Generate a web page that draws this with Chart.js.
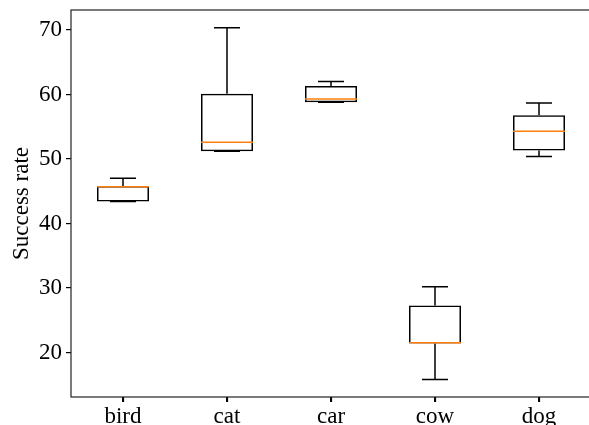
<!DOCTYPE html>
<html>
<head>
<meta charset="utf-8">
<script src="https://cdn.jsdelivr.net/npm/chart.js@4.4.1/dist/chart.umd.min.js"></script>
<style>
  html, body { margin: 0; padding: 0; background: #fff; overflow: hidden; }
  #wrap { width: 600px; height: 440px; }
</style>
</head>
<body>
<div id="wrap"><canvas id="boxChart" width="600" height="440"></canvas></div>
<script>
// Datos del boxplot
const categories = ['bird', 'cat', 'car', 'cow', 'dog'];
const whiskerLow = [43.4, 51.2, 58.8, 15.8, 50.4];
const q1 = [43.4, 51.2, 58.8, 21.4, 51.3];
const median = [45.7, 52.6, 59.3, 21.5, 54.3];
const q3 = [45.8, 60.1, 61.3, 27.3, 56.8];
const whiskerHigh = [47.0, 70.35, 62.0, 30.2, 58.7];
const yTicks = [20, 30, 40, 50, 60, 70];

const serif = "'Liberation Serif', 'DejaVu Serif', serif";

// Bigotes, topes y medianas dibujados con las escalas del gráfico
const boxExtras = {
    id: 'boxExtras',
    afterDatasetsDraw(chart) {
        const ctx = chart.ctx;
        const x = chart.scales.x;
        const y = chart.scales.y;
        const a = chart.chartArea;
        const bars = chart.getDatasetMeta(0).data;
        ctx.save();
        ctx.lineWidth = 1.5;
        categories.forEach((c, i) => {
            const cx = x.getPixelForValue(i);
            const half = bars[i].width / 2;
            const cap = half / 2;
            ctx.strokeStyle = '#000';
            ctx.beginPath();
            ctx.moveTo(cx, y.getPixelForValue(q3[i]));
            ctx.lineTo(cx, y.getPixelForValue(whiskerHigh[i]));
            ctx.moveTo(cx, y.getPixelForValue(q1[i]));
            ctx.lineTo(cx, y.getPixelForValue(whiskerLow[i]));
            ctx.moveTo(cx - cap, y.getPixelForValue(whiskerHigh[i]));
            ctx.lineTo(cx + cap, y.getPixelForValue(whiskerHigh[i]));
            ctx.moveTo(cx - cap, y.getPixelForValue(whiskerLow[i]));
            ctx.lineTo(cx + cap, y.getPixelForValue(whiskerLow[i]));
            ctx.stroke();
            ctx.strokeStyle = '#ff7f0e';
            ctx.beginPath();
            ctx.moveTo(cx - half, y.getPixelForValue(median[i]));
            ctx.lineTo(cx + half, y.getPixelForValue(median[i]));
            ctx.stroke();
            // marca del eje x en el centro de la categoría
            ctx.strokeStyle = '#000';
            ctx.lineWidth = 1.2;
            ctx.beginPath();
            ctx.moveTo(Math.round(cx) + 0.5, a.bottom);
            ctx.lineTo(Math.round(cx) + 0.5, a.bottom + 5);
            ctx.stroke();
            ctx.lineWidth = 1.5;
        });
        // marco del área
        ctx.strokeStyle = '#222';
        ctx.lineWidth = 1.2;
        ctx.strokeRect(a.left, a.top, a.right - a.left, a.bottom - a.top);
        ctx.restore();
    }
};

const boxChart = new Chart(document.getElementById('boxChart'), {
    type: 'bar',
    data: {
        labels: categories,
        datasets: [{
            data: categories.map((c, i) => [q1[i], q3[i]]),
            backgroundColor: 'rgba(255, 255, 255, 0)',
            borderColor: '#000',
            borderWidth: 1.5,
            borderSkipped: false,
            barPercentage: 0.5,
            categoryPercentage: 1
        }]
    },
    options: {
        responsive: false,
        animation: false,
        layout: { padding: { left: 0, right: 9, top: 10, bottom: 0 } },
        plugins: {
            legend: { display: false },
            tooltip: { enabled: false }
        },
        scales: {
            x: {
                offset: true,
                grid: { display: true, offset: false, drawOnChartArea: false, color: '#000', lineWidth: 1.2, tickLength: 5 },
                border: { display: false },
                ticks: { color: '#000', padding: 1, font: { family: serif, size: 23 } },
                afterFit(scale) {
                    scale.height = 43;
                    scale.paddingLeft = 0;
                    scale.paddingRight = 0;
                }
            },
            y: {
                min: 13.1,
                max: 73.1,
                afterBuildTicks(scale) { scale.ticks = yTicks.map(v => ({ value: v })); },
                grid: { display: true, drawOnChartArea: false, color: '#000', lineWidth: 1.2, tickLength: 5 },
                border: { display: false },
                ticks: { color: '#000', padding: 4, font: { family: serif, size: 23 } },
                title: {
                    display: true,
                    text: 'Success rate',
                    color: '#000',
                    padding: { top: 8, bottom: 4 },
                    font: { family: serif, size: 23 }
                },
                afterFit(scale) {
                    scale.width = 71;
                    scale.paddingTop = 0;
                    scale.paddingBottom = 0;
                }
            }
        }
    },
    plugins: [boxExtras]
});
</script>
</body>
</html>
